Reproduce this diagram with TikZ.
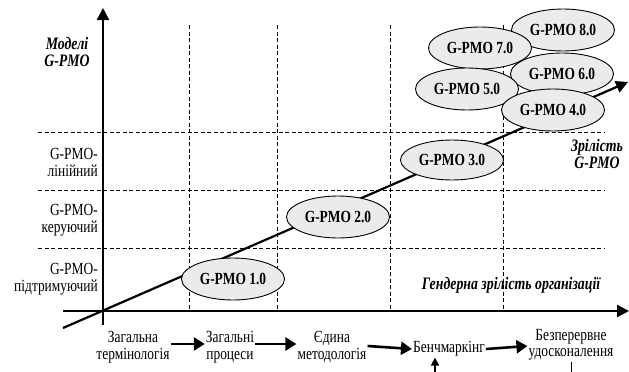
\documentclass[tikz,border=0pt]{standalone}
\usepackage{fontspec}
\setmainfont{Liberation Serif}[FakeStretch=0.79]
\usetikzlibrary{shapes.geometric,arrows.meta}
\begin{document}
\begin{tikzpicture}[x=1pt,y=-1pt,
  ell/.style={ellipse,draw,fill=black!8,line width=0.9pt,minimum width=103pt,minimum height=42pt,inner sep=0pt,font=\fontsize{17}{18}\selectfont\bfseries},
  gridline/.style={line width=0.7pt,dash pattern=on 4pt off 2.5pt},
  axisline/.style={line width=2.2pt,-{Triangle[length=12pt,width=12pt]}},
  flowarrow/.style={line width=2.6pt,-{Triangle[length=11pt,width=13pt]}},
  lbl/.style={font=\fontsize{17}{16.5}\selectfont,align=center,inner sep=1pt},
  lvl/.style={font=\fontsize{17}{17}\selectfont,align=right,anchor=east,inner sep=0pt},
  ttl/.style={font=\fontsize{17.5}{17}\selectfont\bfseries\itshape,align=center,inner sep=0pt}
]
\useasboundingbox (0,0) rectangle (629,372);

% grid
\foreach \yy in {132,190,248}{\draw[gridline] (38,\yy) -- (605,\yy);}
\foreach \xx in {189,277,390,503}{\draw[gridline] (\xx,25) -- (\xx,311);}

% axes
\coordinate (o) at (103,311);
\coordinate (ytop) at (103,8);
\coordinate (ybot) at (103,325);
\coordinate (xl) at (63,311);
\coordinate (xr) at (629,311);
\draw[line width=2.2pt] (ybot) -- (o);
\draw[axisline] (o) -- (ytop);
\draw[axisline] (xl) -- (xr);

% diagonal
\coordinate (dl) at (63,328);
\coordinate (dr) at (628,82);
\draw[axisline] (dl) -- (dr);

% ellipses
\node[ell] (e8) at (563,30) {G-PMO 8.0};
\node[ell] (e7) at (480,48) {G-PMO 7.0};
\node[ell] (e6) at (562,74) {G-PMO 6.0};
\node[ell] (e5) at (467,89) {G-PMO 5.0};
\node[ell] (e4) at (553,110) {G-PMO 4.0};
\node[ell,minimum height=40pt] (e3) at (452,160) {G-PMO 3.0};
\node[ell] (e2) at (338,217) {G-PMO 2.0};
\node[ell] (e1) at (233,279) {G-PMO 1.0};

% axis titles
\node[ttl] (ymod) at (67,52) {Моделі\\G-PMO};
\node[ttl] (ymat) at (597,154) {Зрілість\\G-PMO};
\node[ttl] (xmat) at (511,285) {Гендерна зрілість організації};

% levels
\node[lvl] (l3) at (98,162) {G-PMO-\\лінійний};
\node[lvl] (l2) at (98,220) {G-PMO-\\керуючий};
\node[lvl] (l1) at (98,279) {G-PMO-\\підтримуючий};

% flow
\node[lbl] (t1) at (133,347) {Загальна\\термінологія};
\node[lbl] (t2) at (230,347) {Загальні\\процеси};
\node[lbl] (t3) at (332,347) {Єдина\\методологія};
\node[lbl] (t4) at (449,349) {Бенчмаркінг};
\node[lbl] (t5) at (571,345) {Безперервне\\удосконалення};
\draw[flowarrow] ([yshift=3pt]t1.east) -- ([yshift=3pt]t2.west);
\draw[flowarrow] ([yshift=3pt]t2.east) -- ([yshift=3pt]t3.west);
\draw[flowarrow] ([yshift=1pt]t3.east) -- (t4.west);
\draw[flowarrow] (t4.east) -- ([yshift=-1pt]t5.west);
\coordinate (ub) at (435,372);
\draw[line width=1.6pt,-{Triangle[length=8pt,width=8pt]}] (ub) -- (ub |- t4.south);
\coordinate (lb) at (571,372);
\draw[line width=0.9pt] (t5.south) -- (lb);
\end{tikzpicture}
\end{document}
